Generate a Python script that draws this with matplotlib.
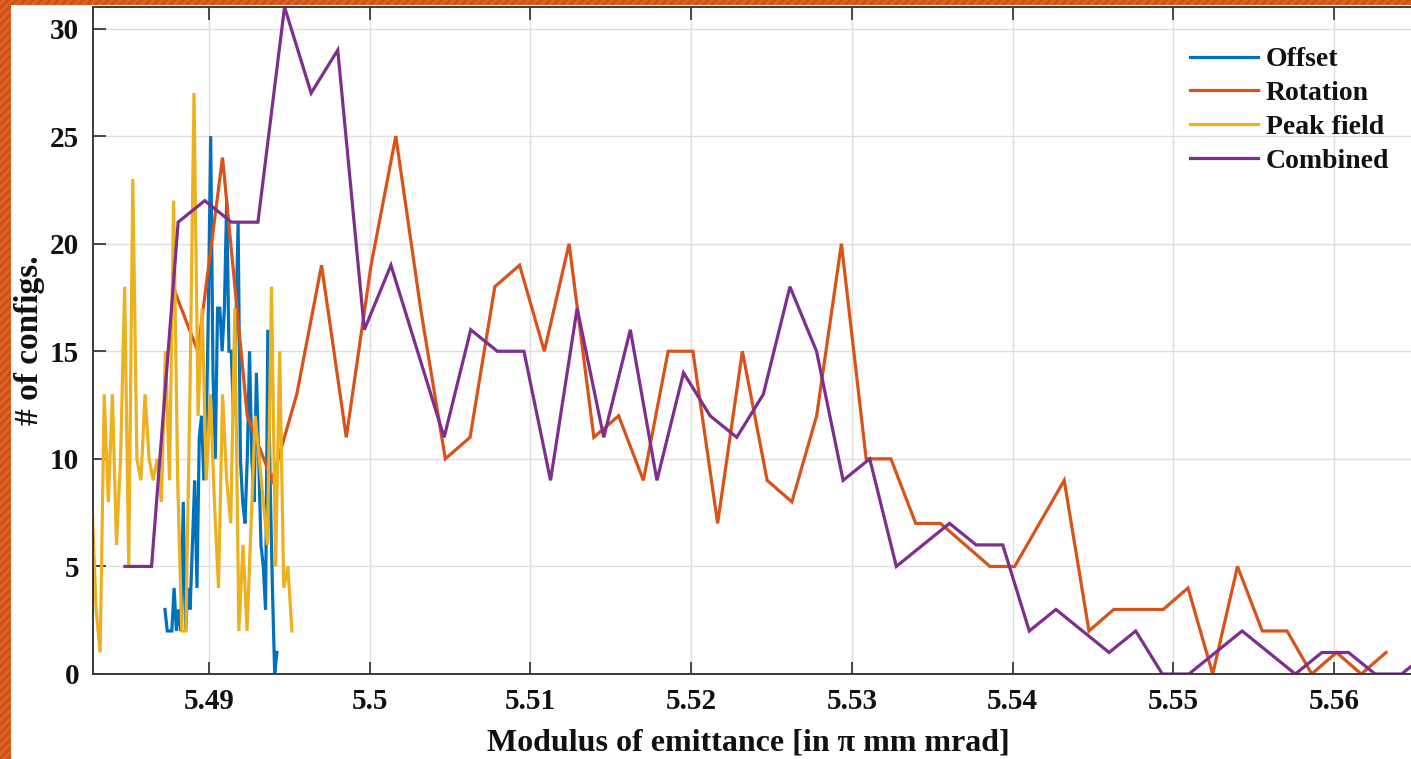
import matplotlib
matplotlib.use('Agg')
import matplotlib.pyplot as plt
from matplotlib.patches import Rectangle
import numpy as np

# ---------------- data ----------------
series_names = ['Offset', 'Rotation', 'Peak field', 'Combined']

offset_x_first, offset_x_last = 5.48726, 5.49423
offset_counts = [3, 2, 2, 2, 4, 2, 3, 2, 8, 2, 4, 3, 6, 9, 4, 11, 12, 9, 11, 17,
                 25, 14, 10, 17, 17, 15, 17, 22, 15, 15, 12, 16, 21, 10, 8, 7, 10, 15, 10, 8,
                 14, 10, 6, 5, 3, 16, 9, 4, 0, 1]

rotation_x_first, rotation_x_last = 5.48776, 5.56324
rotation_counts = [18, 15, 24, 12, 9, 13, 19, 11, 19, 25, 17, 10, 11, 18, 19, 15, 20, 11, 12, 9,
                   15, 15, 7, 15, 9, 8, 12, 20, 10, 10, 7, 7, 6, 5, 5, 7, 9, 2, 3, 3,
                   3, 4, 0, 5, 2, 2, 0, 1, 0, 1]

peak_x_first, peak_x_last = 5.48272, 5.49516
peak_counts = [8, 3, 1, 13, 8, 13, 6, 10, 18, 5, 23, 10, 9, 13, 10, 9, 10, 8, 15, 9,
               22, 9, 2, 2, 13, 27, 12, 17, 9, 13, 8, 4, 13, 9, 7, 17, 2, 6, 2, 7,
               12, 10, 8, 6, 18, 5, 15, 4, 5, 2]

combined_x_first, combined_x_last = 5.48477, 5.56587
combined_counts = [5, 5, 21, 22, 21, 21, 31, 27, 29, 16, 19, 15, 11, 16, 15, 15, 9, 17, 11, 16,
                   9, 14, 12, 11, 13, 18, 15, 9, 10, 5, 6, 7, 6, 6, 2, 3, 2, 1, 2, 0,
                   0, 1, 2, 1, 0, 1, 1, 0, 0, 1]

x_tick_values = [5.49, 5.50, 5.51, 5.52, 5.53, 5.54, 5.55, 5.56]
x_tick_labels = ['5.49', '5.5', '5.51', '5.52', '5.53', '5.54', '5.55', '5.56']
y_tick_values = [0, 5, 10, 15, 20, 25, 30]
y_tick_labels = ['0', '5', '10', '15', '20', '25', '30']

x_label = 'Modulus of emittance [in \u03c0 mm mrad]'
y_label = '# of configs.'

# ---------------- styling ----------------
colors = ['#0072BD', '#D95319', '#EDB120', '#7E2F8E']
W, H = 1411, 759
plt.rcParams['font.family'] = ['Liberation Serif', 'DejaVu Serif']
plt.rcParams['font.weight'] = 'bold'
plt.rcParams['hatch.linewidth'] = 2.0

fig = plt.figure(figsize=(W / 100, H / 100), dpi=100)
fig.patch.set_facecolor('#E0601E')
fig.patch.set_edgecolor('#C9501A')
fig.patch.set_hatch('////')
fig.patches.append(Rectangle((11 / W, 0), 1.0, 1 - 5 / H, transform=fig.transFigure,
                             facecolor='white', edgecolor='none', zorder=-10))

ax_left, ax_right, ax_top, ax_bottom = 93, 1430, 7, 674
ax = fig.add_axes([ax_left / W, (H - ax_bottom) / H,
                   (ax_right - ax_left) / W, (ax_bottom - ax_top) / H])
ax.set_facecolor('white')

xs = [np.linspace(offset_x_first, offset_x_last, len(offset_counts)),
      np.linspace(rotation_x_first, rotation_x_last, len(rotation_counts)),
      np.linspace(peak_x_first, peak_x_last, len(peak_counts)),
      np.linspace(combined_x_first, combined_x_last, len(combined_counts))]
ys = [offset_counts, rotation_counts, peak_counts, combined_counts]

for x, y, c, name in zip(xs, ys, colors, series_names):
    ax.plot(x, y, color=c, lw=2.3, label=name, solid_joinstyle='miter')

px_per_unit = 16071.0
ax.set_xlim(5.49 + (ax_left - 209) / px_per_unit, 5.49 + (ax_right - 209) / px_per_unit)
ax.set_ylim(0, 31)

ax.set_xticks(x_tick_values)
ax.set_xticklabels(x_tick_labels)
ax.set_yticks(y_tick_values)
ax.set_yticklabels(y_tick_labels)

ax.grid(True, color='#dedede', lw=1.0)
ax.set_axisbelow(True)
for s in ax.spines.values():
    s.set_color('#3a3a3a')
    s.set_linewidth(1.4)
ax.tick_params(axis='both', direction='in', length=9, width=1.3, color='#3a3a3a',
               labelsize=21, labelcolor='#111111', top=True, right=True)
ax.tick_params(axis='x', pad=10)
ax.tick_params(axis='y', pad=10)
for lab in ax.get_xticklabels() + ax.get_yticklabels():
    lab.set_fontweight('bold')

ax.set_xlabel(x_label, fontsize=23, fontweight='bold', color='#111111')
ax.xaxis.set_label_coords((748 - ax_left) / (ax_right - ax_left),
                          -(743 - ax_bottom) / (ax_bottom - ax_top), transform=ax.transAxes)
ax.xaxis.label.set_va('center')
ax.set_ylabel(y_label, fontsize=24, fontweight='bold', color='#111111')
ax.yaxis.set_label_coords(-(ax_left - 30) / (ax_right - ax_left),
                          (ax_bottom - 340) / (ax_bottom - ax_top), transform=ax.transAxes)
ax.yaxis.label.set_va('center')

leg = ax.legend(loc='upper left', bbox_to_anchor=(1190 / W, 1 - 47 / H),
                bbox_transform=fig.transFigure, frameon=False,
                prop={'family': 'Liberation Serif', 'weight': 'bold', 'size': 20},
                handlelength=2.45, handletextpad=0.28, labelspacing=0.3,
                borderaxespad=0, borderpad=0)
for t in leg.get_texts():
    t.set_color('#111111')

fig.savefig('out.png', dpi=100, facecolor=fig.get_facecolor())
